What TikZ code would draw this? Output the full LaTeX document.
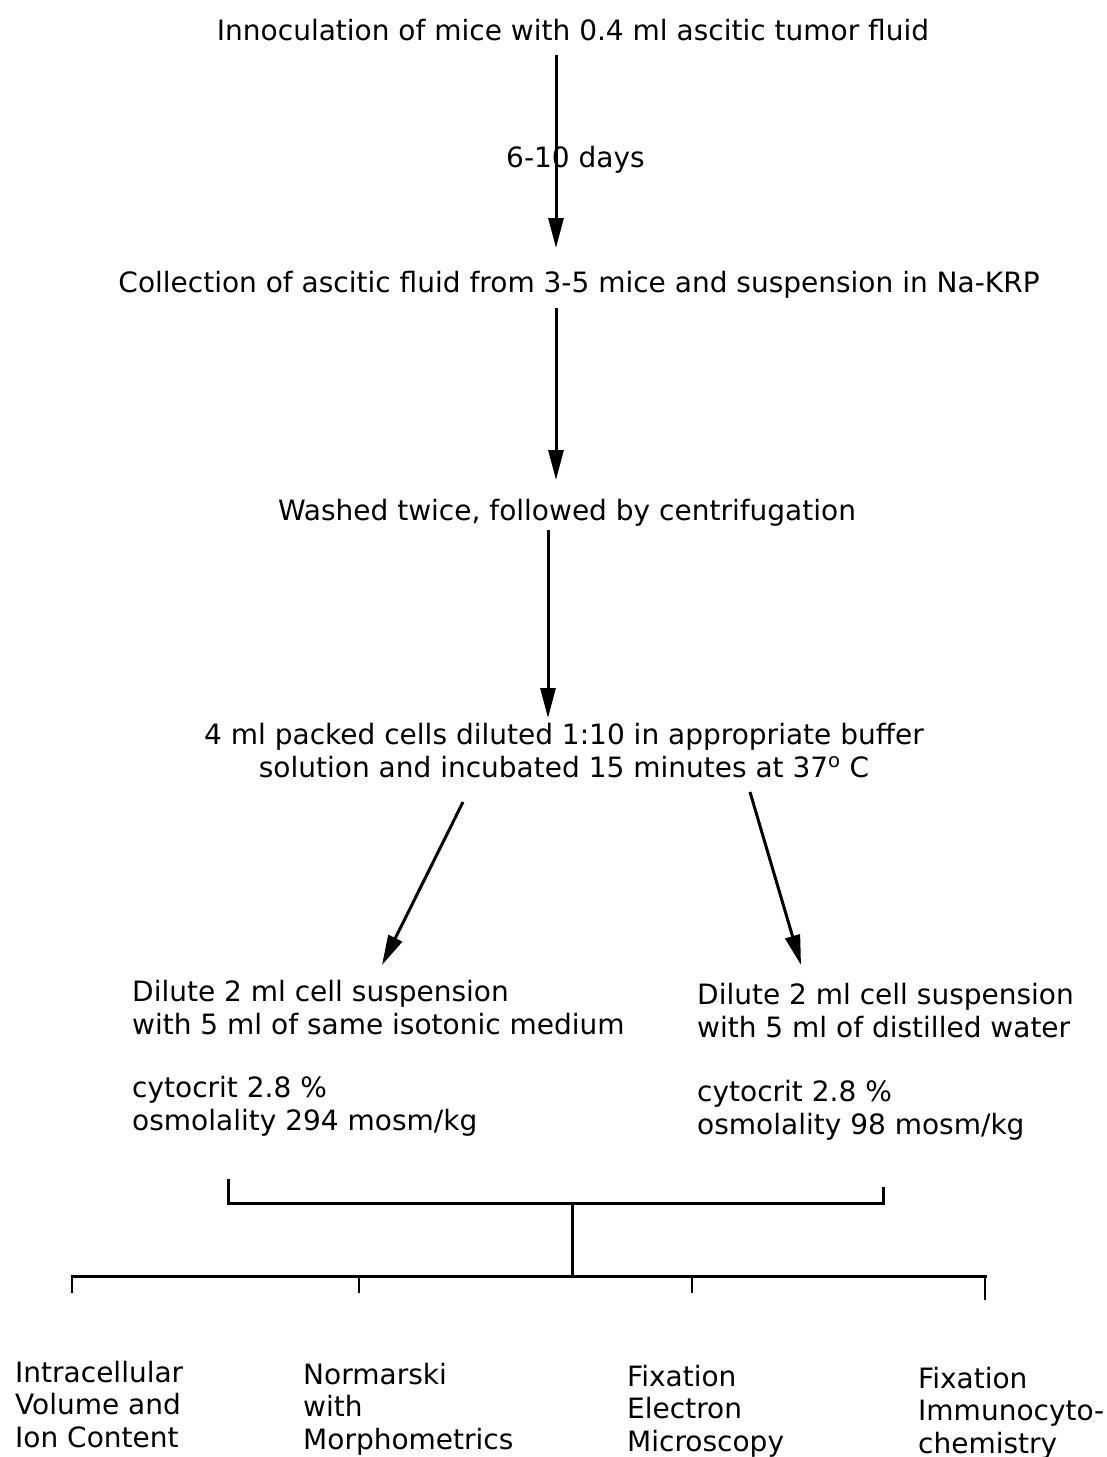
\documentclass[tikz,border=0pt]{standalone}
\usepackage{fontspec}
\setmainfont{DejaVu Sans}
\usetikzlibrary{arrows.meta}
\begin{document}
\begin{tikzpicture}[x=1pt,y=-1pt,
  txt/.style={inner sep=0pt,font=\fontsize{28}{32.5}\selectfont},
  arr/.style={line width=3pt,-{Triangle[length=30pt,width=15pt]}},
  brk/.style={line width=3pt,line cap=rect}]
\useasboundingbox (0,0) rectangle (1107,1457);
% texts
\node[txt,anchor=base] (t1) at (573,40) {Innoculation of mice with 0.4 ml ascitic tumor fluid};
\node[txt,anchor=base west] (days) at (506,167) {6-10 days};
\node[txt,anchor=base] (t2) at (579,292) {Collection of ascitic fluid from 3-5 mice and suspension in Na-KRP};
\node[txt,anchor=base] (t3) at (567,520) {Washed twice, followed by centrifugation};
\node[txt,anchor=base,align=center] (t4) at (564,777) {4 ml packed cells diluted 1:10 in appropriate buffer\\solution and incubated 15 minutes at 37\textsuperscript{o} C};
\node[txt,anchor=base west,align=left] (l1) at (132,1034) {Dilute 2 ml cell suspension\\with 5 ml of same isotonic medium};
\node[txt,anchor=base west,align=left] (r1) at (697,1037) {Dilute 2 ml cell suspension\\with 5 ml of distilled water};
\node[txt,anchor=base west,align=left] (l2) at (132,1130) {cytocrit 2.8 \%\\osmolality 294 mosm/kg};
\node[txt,anchor=base west,align=left] (r2) at (697,1134) {cytocrit 2.8 \%\\osmolality 98 mosm/kg};
\node[txt,anchor=base west,align=left] (b1) at (15,1447) {Intracellular\\Volume and\\Ion Content};
\node[txt,anchor=base west,align=left] (b2) at (303,1449) {Normarski\\with\\Morphometrics};
\node[txt,anchor=base west,align=left] (b3) at (627,1451) {Fixation\\Electron\\Microscopy};
\node[txt,anchor=base west,align=left] (b4) at (918,1453) {Fixation\\Immunocyto-\\chemistry};
% arrow coordinates
\coordinate (a1s) at (556,55);  \coordinate (a1e) at (556,248);
\coordinate (a2s) at (556,308); \coordinate (a2e) at (556,480);
\coordinate (a3s) at (548,530); \coordinate (a3e) at (548,718);
\coordinate (a4s) at (463,802); \coordinate (a4e) at (382,965);
\coordinate (a5s) at (750,792); \coordinate (a5e) at (801,965);
\draw[arr] (a1s) -- (a1e);
\draw[arr] (a2s) -- (a2e);
\draw[arr] (a3s) -- (a3e);
\draw[arr] (a4s) -- (a4e);
\draw[arr] (a5s) -- (a5e);
% bracket
\coordinate (bl) at (228,1180); \coordinate (br) at (883,1188);
\coordinate (bm) at (572,1203);
\coordinate (hl) at (72,1276); \coordinate (hr) at (985,1276); \coordinate (hm) at (572,1276);
\draw[brk] (bl) -- (bl |- bm) -- (br |- bm) -- (br);
\draw[brk] (bm) -- (hm);
\draw[brk] (hl) -- (hr);
\coordinate (d1) at (72,1293); \coordinate (d2) at (359,1293);
\coordinate (d3) at (692,1293); \coordinate (d4) at (985,1300);
\foreach \d in {d1,d2,d3,d4} \draw[line width=2.5pt] (\d |- hl) -- (\d);
\end{tikzpicture}
\end{document}
